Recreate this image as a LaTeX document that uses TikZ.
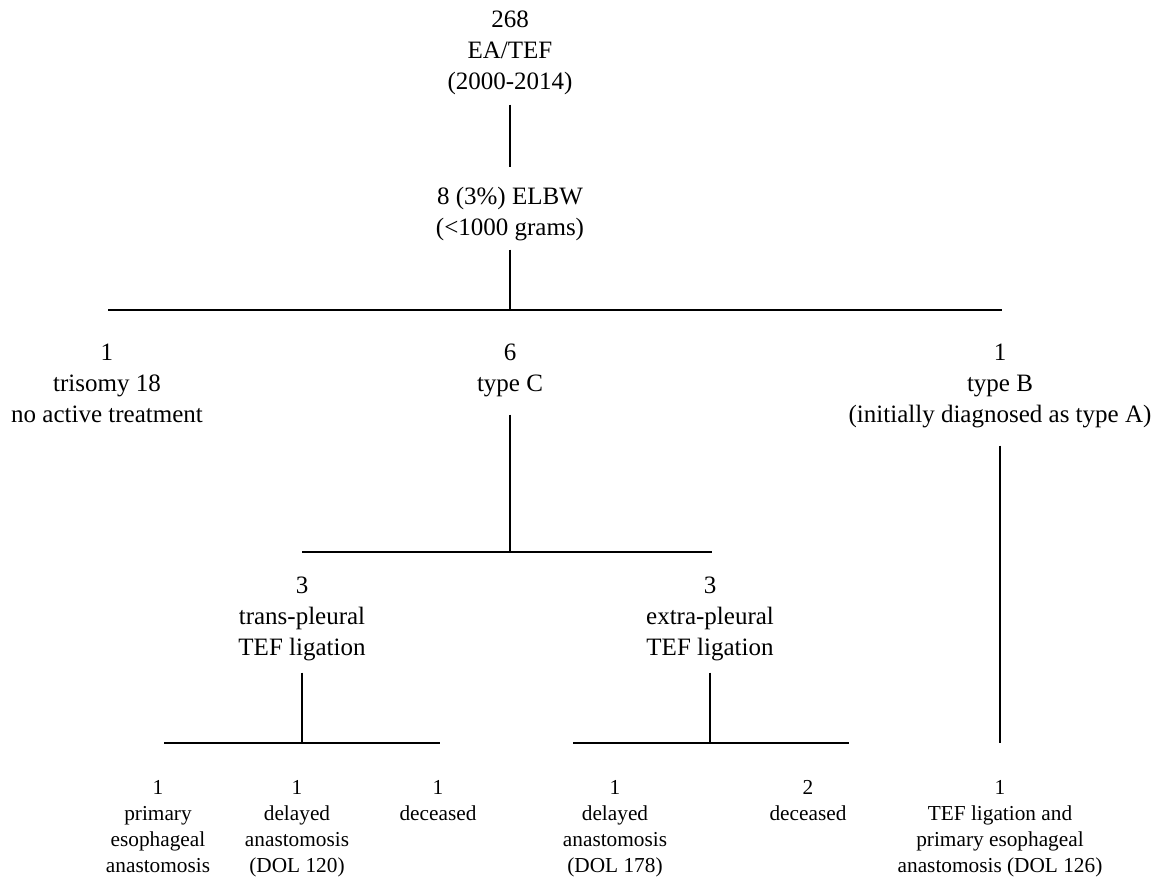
\documentclass[tikz,border=0pt]{standalone}
\usepackage{fontspec}
\setmainfont{Liberation Serif}
\newcommand\mystack[1]{\begin{tabular}[t]{@{}c@{}}#1\end{tabular}}
\tikzset{
  big/.style={font=\fontsize{25bp}{31bp}\selectfont, inner sep=0pt, anchor=base},
  small/.style={font=\fontsize{21.3bp}{26bp}\selectfont, inner sep=0pt, anchor=base},
  vline/.style={line width=1.5bp},
  hline/.style={line width=2bp},
}
\begin{document}
\begin{tikzpicture}[x=1bp,y=-1bp]
\useasboundingbox (0,0) rectangle (1151,879);
% nodes
\node[big] (root) at (510,27) {\mystack{268\\EA/TEF\\(2000-2014)}};
\node[big] (elbw) at (510,204) {\mystack{8 (3\%) ELBW\\(<1000 grams)}};
\node[big] (tri) at (107,360) {\mystack{1\\trisomy 18\\no active treatment}};
\node[big] (typec) at (510,360) {\mystack{6\\type C}};
\node[big] (typeb) at (1000,360) {\mystack{1\\type B\\(initially diagnosed as type A)}};
\node[big] (trans) at (302,593) {\mystack{3\\trans-pleural\\TEF ligation}};
\node[big] (extra) at (710,593) {\mystack{3\\extra-pleural\\TEF ligation}};
\node[small] (b1) at (158,794) {\mystack{1\\primary\\esophageal\\anastomosis}};
\node[small] (b2) at (297,794) {\mystack{1\\delayed\\anastomosis\\(DOL 120)}};
\node[small] (b3) at (438,794) {\mystack{1\\deceased}};
\node[small] (b4) at (615,794) {\mystack{1\\delayed\\anastomosis\\(DOL 178)}};
\node[small] (b5) at (808,794) {\mystack{2\\deceased}};
\node[small] (b6) at (1000,794) {\mystack{1\\TEF ligation and\\primary esophageal\\anastomosis (DOL 126)}};
% junctions
\coordinate (j1) at (510,310);
\coordinate (j1l) at (108,310);
\coordinate (j1r) at (1002,310);
\coordinate (j2) at (510,552);
\coordinate (j2l) at (302,552);
\coordinate (j2r) at (712,552);
\coordinate (j3) at (302,743);
\coordinate (j3l) at (164,743);
\coordinate (j3r) at (440,743);
\coordinate (j4) at (710,743);
\coordinate (j4l) at (573,743);
\coordinate (j4r) at (849,743);
% connectors
\draw[vline, shorten <=6bp, shorten >=15bp] (root.south) -- (elbw.north);
\draw[vline, shorten <=5bp] (elbw.south) -- (j1);
\draw[hline] (j1l) -- (j1r);
\draw[vline, shorten <=14bp] (typec.south) -- (j2);
\draw[hline] (j2l) -- (j2r);
\draw[vline, shorten <=8bp] (trans.south) -- (j3);
\draw[hline] (j3l) -- (j3r);
\draw[vline, shorten <=8bp] (extra.south) -- (j4);
\draw[hline] (j4l) -- (j4r);
\draw[vline, shorten <=14bp, shorten >=33bp] (typeb.south) -- (b6.north);
\end{tikzpicture}
\end{document}
